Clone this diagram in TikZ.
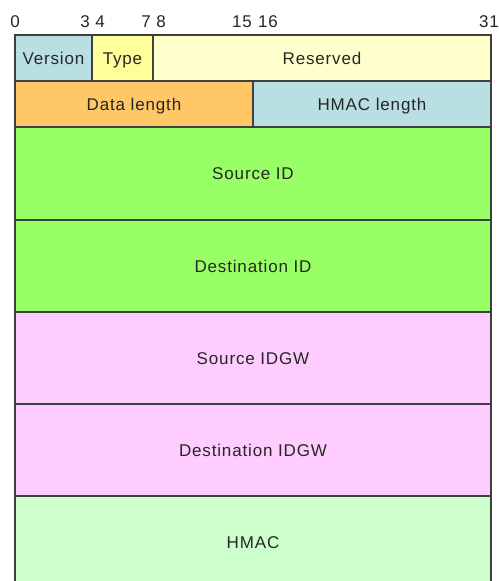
\documentclass[tikz,border=0pt]{standalone}
\usepackage{fontspec}
\setmainfont[LetterSpace=5]{Liberation Sans}
\definecolor{edge}{HTML}{404040}
\definecolor{cblue}{HTML}{B9DFE3}
\definecolor{cyellow}{HTML}{FFFF99}
\definecolor{cpale}{HTML}{FFFFCC}
\definecolor{corange}{HTML}{FFC766}
\definecolor{cgreen}{HTML}{99FF66}
\definecolor{cpink}{HTML}{FFCCFF}
\definecolor{cmint}{HTML}{CCFFCC}
\begin{document}
\begin{tikzpicture}[x=1pt,y=-1pt,
  field/.style={draw=edge, line width=1.3pt, inner sep=0pt, outer sep=0pt,
    text height=12.2pt, text depth=0pt,
    font=\fontsize{17}{20}\selectfont, text=black!85},
  bitnum/.style={anchor=base, inner sep=0pt, font=\fontsize{17}{20}\selectfont, text=black!85}]
\useasboundingbox (0,0) rectangle (498,581);
\clip (0,0) rectangle (498,581);
\fill[white] (0,0) rectangle (498,581);
% bit positions
\node[bitnum] (b0)  at (15,27)  {0};
\node[bitnum] (b3)  at (85,27)  {3};
\node[bitnum] (b4)  at (100,27) {4};
\node[bitnum] (b7)  at (146,27) {7};
\node[bitnum] (b8)  at (161,27) {8};
\node[bitnum] (b15) at (242,27) {15};
\node[bitnum] (b16) at (268,27) {16};
\node[bitnum] (b31) at (489,27) {31};
% header fields
\node[field, fill=cblue,   minimum width=77pt,  minimum height=46pt] (ver)  at (53.5,58)  {Version};
\node[field, fill=cyellow, minimum width=61pt,  minimum height=46pt] (type) at (122.5,58) {Type};
\node[field, fill=cpale,   minimum width=338pt, minimum height=46pt] (res)  at (322,58)   {Reserved};
\node[field, fill=corange, minimum width=238pt, minimum height=46pt] (dlen) at (134,104)  {Data length};
\node[field, fill=cblue,   minimum width=238pt, minimum height=46pt] (hlen) at (372,104)  {HMAC length};
% identifiers
\node[field, fill=cgreen, minimum width=476pt, minimum height=93pt] (sid)  at (253,173.5) {Source ID};
\node[field, fill=cgreen, minimum width=476pt, minimum height=92pt] (did)  at (253,266)   {Destination ID};
\node[field, fill=cpink,  minimum width=476pt, minimum height=92pt] (sgw)  at (253,358)   {Source IDGW};
\node[field, fill=cpink,  minimum width=476pt, minimum height=92pt] (dgw)  at (253,450)   {Destination IDGW};
\node[field, fill=cmint,  minimum width=476pt, minimum height=92pt] (hmac) at (253,542)   {HMAC};
\end{tikzpicture}
\end{document}
